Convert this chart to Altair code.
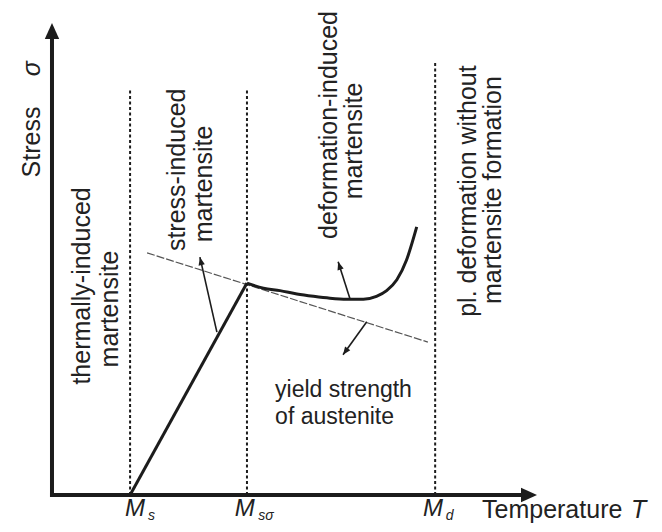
import math
import altair as alt
import pandas as pd

# ---- coordinate frame (schematic units: temperature T, stress sigma) ----
T_DOMAIN = [-9.07, 124.12]
S_DOMAIN = [-6.14, 103.18]
W, H = 646, 516

# axes (drawn as arrows)
axis_T1 = [0.0, 0.0]
axis_S1 = [0.0, 0.0]
axis_T2 = [0.0, 97.0]
axis_S2 = [97.0, 0.0]
axis_tip_T = [0.0, 100.0]
axis_tip_S = [100.0, 0.0]
axis_tip_dir_T = [0.0, 1.0]
axis_tip_dir_S = [1.0, 0.0]

# characteristic temperatures Ms, Ms_sigma, Md (dotted guides)
guide_T = [16.1, 40.2, 79.0]
guide_top = [86.2, 86.2, 91.7]

# stress-induced branch (straight)
ramp_T = [16.1, 40.2]
ramp_S = [0.0, 44.9]

# deformation-induced branch (curve)
curve_T = [40.2, 43.6, 47.0, 50.5, 53.9, 57.3, 60.8, 64.2, 66.9, 69.0, 71.1, 73.1, 75.2]
curve_S = [44.9, 43.8, 43.3, 42.6, 42.1, 41.7, 41.5, 41.5, 42.1, 43.3, 45.6, 49.8, 56.8]

# yield strength of austenite
yield_T = [19.6, 77.5]
yield_S = [51.3, 32.4]

# annotation arrows
arrow_tail_T = [34.0, 61.4, 64.9]
arrow_tail_S = [34.5, 41.7, 36.7]
arrow_tip_T = [30.5, 59.0, 60.0]
arrow_tip_S = [50.4, 49.4, 29.7]

# rotated labels
rot_text = ["thermally-induced", "martensite", "stress-induced", "martensite",
            "deformation-induced", "martensite", "pl. deformation without",
            "martensite formation", "Stress"]
rot_T = [7.84, 13.6, 27.4, 33.0, 58.8, 63.9, 87.4, 92.6, -2.47]
rot_S = [44.3, 39.4, 68.9, 65.9, 78.4, 75.0, 64.4, 64.6, 74.8]
sigma_T = [-2.47]
sigma_S = [90.3]

# horizontal labels
yield_text = ["yield strength", "of austenite"]
yield_text_T = [46.0, 46.0]
yield_text_S = [20.8, 15.0]

m_T = [15.05, 37.7, 76.5]
m_S = [-4.45, -4.45, -4.45]
sub_text = ["s", "sσ", "d"]
sub_T = [19.8, 42.5, 81.2]
sub_S = [-5.3, -5.3, -5.3]

temp_T = [88.66]
temp_S = [-4.8]
tsym_T = [119.4]

INK = "#1c1c1c"
FONT = "Liberation Sans"

kx = W / (T_DOMAIN[1] - T_DOMAIN[0])
ky = H / (S_DOMAIN[1] - S_DOMAIN[0])


def heading(dT, dS):
    return math.degrees(math.atan2(dT * kx, dS * ky)) % 360


xs = alt.Scale(domain=T_DOMAIN, nice=False, zero=False)
ys = alt.Scale(domain=S_DOMAIN, nice=False, zero=False)


def X(f):
    return alt.X(f, type="quantitative", scale=xs, axis=None)


def Y(f):
    return alt.Y(f, type="quantitative", scale=ys, axis=None)


# ---- layers ----
axes_df = pd.DataFrame({"T1": axis_T1, "S1": axis_S1, "T2": axis_T2, "S2": axis_S2})
axes = alt.Chart(axes_df).mark_rule(color=INK, strokeWidth=4, strokeCap="square").encode(
    x=X("T1"), y=Y("S1"), x2="T2", y2="S2")

axis_heads_df = pd.DataFrame({
    "T": axis_tip_T, "S": axis_tip_S,
    "ang": [heading(a, b) for a, b in zip(axis_tip_dir_T, axis_tip_dir_S)]})
axis_heads = alt.Chart(axis_heads_df).mark_point(
    shape="M0,0L-0.45,1L0.45,1Z", filled=True, size=1024, color=INK, opacity=1, strokeWidth=0
).encode(x=X("T"), y=Y("S"), angle=alt.Angle("ang:Q", scale=None))

guides_df = pd.DataFrame({"T": guide_T, "top": guide_top, "bot": [0.0] * len(guide_T)})
guides = alt.Chart(guides_df).mark_rule(color=INK, strokeWidth=2, strokeDash=[3, 2.5]).encode(
    x=X("T"), y=Y("bot"), y2="top")

yield_df = pd.DataFrame({"T": yield_T, "S": yield_S})
yield_line = alt.Chart(yield_df).mark_line(color="#555555", strokeWidth=1.2, strokeDash=[8, 2]).encode(
    x=X("T"), y=Y("S"))

ramp_df = pd.DataFrame({"T": ramp_T, "S": ramp_S})
ramp = alt.Chart(ramp_df).mark_line(color=INK, strokeWidth=3, strokeJoin="round").encode(
    x=X("T"), y=Y("S"))

curve_df = pd.DataFrame({"T": curve_T, "S": curve_S})
curve = alt.Chart(curve_df).mark_line(color=INK, strokeWidth=3, interpolate="monotone").encode(
    x=X("T"), y=Y("S"))

arrows_df = pd.DataFrame({"T1": arrow_tail_T, "S1": arrow_tail_S, "T2": arrow_tip_T, "S2": arrow_tip_S})
arrows_df["ang"] = [heading(b - a, d - c) for a, b, c, d in
                    zip(arrow_tail_T, arrow_tip_T, arrow_tail_S, arrow_tip_S)]
arrow_lines = alt.Chart(arrows_df).mark_rule(color=INK, strokeWidth=1.6).encode(
    x=X("T1"), y=Y("S1"), x2="T2", y2="S2")
arrow_heads = alt.Chart(arrows_df).mark_point(
    shape="M0,0L-0.4,1L0.4,1Z", filled=True, size=256, color=INK, opacity=1, strokeWidth=0
).encode(x=X("T2"), y=Y("S2"), angle=alt.Angle("ang:Q", scale=None))

rot_df = pd.DataFrame({"txt": rot_text, "T": rot_T, "S": rot_S})
rot_labels = alt.Chart(rot_df).mark_text(
    angle=270, align="center", baseline="alphabetic", font=FONT, fontSize=25, color="#222222"
).encode(x=X("T"), y=Y("S"), text="txt:N")

sigma_df = pd.DataFrame({"txt": ["σ"], "T": sigma_T, "S": sigma_S})
sigma = alt.Chart(sigma_df).mark_text(
    angle=270, align="center", baseline="alphabetic", font=FONT, fontSize=25,
    fontStyle="italic", color="#222222"
).encode(x=X("T"), y=Y("S"), text="txt:N")

ytxt_df = pd.DataFrame({"txt": yield_text, "T": yield_text_T, "S": yield_text_S})
ytxt = alt.Chart(ytxt_df).mark_text(
    align="left", baseline="alphabetic", font=FONT, fontSize=23, color="#222222"
).encode(x=X("T"), y=Y("S"), text="txt:N")

m_df = pd.DataFrame({"txt": ["M"] * 3, "T": m_T, "S": m_S})
m_labels = alt.Chart(m_df).mark_text(
    align="left", baseline="alphabetic", font=FONT, fontSize=24, fontStyle="italic", color="#222222"
).encode(x=X("T"), y=Y("S"), text="txt:N")

sub_df = pd.DataFrame({"txt": sub_text, "T": sub_T, "S": sub_S})
sub_labels = alt.Chart(sub_df).mark_text(
    align="left", baseline="alphabetic", font=FONT, fontSize=14, fontStyle="italic", color="#222222"
).encode(x=X("T"), y=Y("S"), text="txt:N")

temp_df = pd.DataFrame({"txt": ["Temperature"], "T": temp_T, "S": temp_S})
temp = alt.Chart(temp_df).mark_text(
    align="left", baseline="alphabetic", font=FONT, fontSize=25, color="#222222"
).encode(x=X("T"), y=Y("S"), text="txt:N")

tsym_df = pd.DataFrame({"txt": ["T"], "T": tsym_T, "S": temp_S})
tsym = alt.Chart(tsym_df).mark_text(
    align="left", baseline="alphabetic", font=FONT, fontSize=25, fontStyle="italic", color="#222222"
).encode(x=X("T"), y=Y("S"), text="txt:N")

chart = alt.layer(
    guides, yield_line, ramp, curve, arrow_lines, arrow_heads, axes, axis_heads,
    rot_labels, sigma, ytxt, m_labels, sub_labels, temp, tsym
).properties(
    width=W, height=H, autosize=alt.AutoSizeParams(type="none"), padding=0, background="white"
).configure_view(stroke=None)

chart.save("out.html", embed_options={"renderer": "svg", "actions": False})
